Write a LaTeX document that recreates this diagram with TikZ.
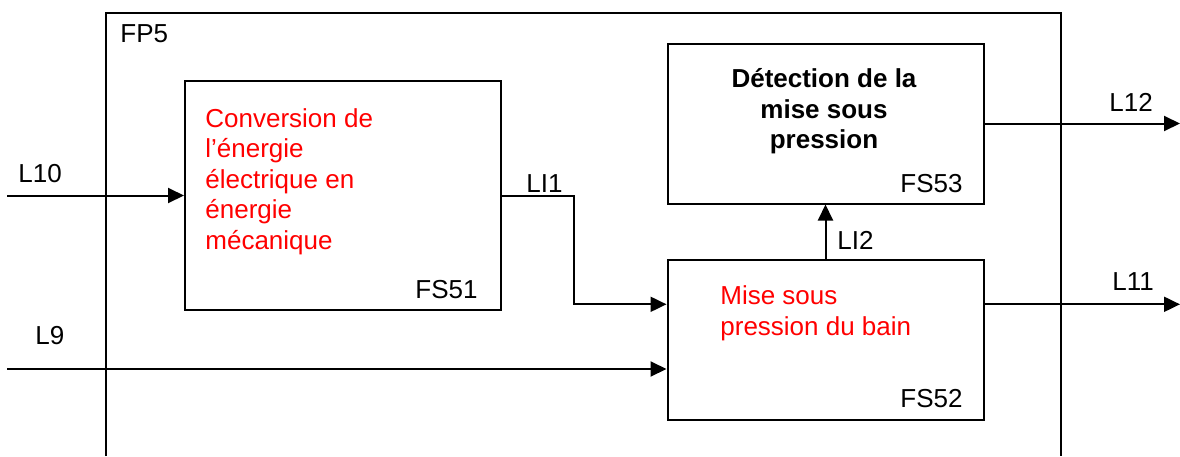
\documentclass[tikz,border=0pt]{standalone}
\usepackage{fontspec}
\setmainfont{Liberation Sans}
\usetikzlibrary{positioning,arrows.meta,calc}
\definecolor{FuncRed}{RGB}{255,0,0}

\tikzset{
  fsbox/.style={draw, line width=1pt, minimum width=158pt, minimum height=80pt},
  flow/.style={line width=1pt, -{Triangle[length=8pt,width=7.5pt]}},
  lbl/.style={inner sep=0pt, anchor=base west},
  tag/.style={inner sep=0pt, anchor=base east},
  redtxt/.style={inner sep=0pt, anchor=base west, align=left, text=FuncRed}
}

\begin{document}
\begin{tikzpicture}[x=0.5pt, y=-0.5pt,
    every node/.style={font=\fontsize{13}{15.25}\selectfont}]
  \useasboundingbox (0,0) rectangle (1180,456);

  % frame of FP5 (open at the bottom)
  \draw[line width=1pt] (106,456) -- (106,13.3) -- (1060.7,13.3) -- (1060.7,456);
  \node[lbl] (fp5) at (120,42) {FP5};

  % function blocks
  \node[fsbox, minimum height=114.5pt] (fs51) at (343,195.5) {};
  \node[fsbox] (fs53) at (825.5,123.5) {};
  \node[fsbox] (fs52) at (825.5,339.7) {};

  % multi-line texts sit on the baseline of their last line
  \node[redtxt] (t51) at (205,249) {Conversion de\\l’énergie\\électrique en\\énergie\\mécanique};
  \node[tag] (n51) at (478,298) {FS51};
  \node[inner sep=0pt, anchor=base, align=center, font=\fontsize{13}{15.25}\selectfont\bfseries]
    (t53) at (824,148.5) {Détection de la\\mise sous\\pression};
  \node[tag] (n53) at (963,192) {FS53};
  \node[redtxt] (t52) at (720,335) {Mise sous\\pression du bain};
  \node[tag] (n52) at (963,407) {FS52};

  % inputs and outputs
  \coordinate (in10) at (7,195.5);
  \coordinate (in9) at (7,369);
  \coordinate (fs52in) at ([yshift=17.7pt]fs52.west);
  \coordinate (fs52out) at ([yshift=17.7pt]fs52.east);
  \coordinate (out12) at (1180,123.5);
  \coordinate (out11) at (1180,304.3);

  \draw[flow] (in10) -- (fs51.west);
  \draw[flow] (in9) -- (in9 -| fs52.west);
  \draw[flow] (fs51.east) -- ++(72,0) |- (fs52in);
  \draw[flow] (fs52.north) -- (fs53.south);
  \draw[flow] (fs53.east) -- (out12);
  \draw[flow] (fs52out) -- (out11);

  \node[lbl] (l10) at (18,182) {L10};
  \node[lbl] (l9) at (35,344) {L9};
  \node[lbl] (li1) at (526,192) {LI1};
  \node[lbl] (li2) at (837,249) {LI2};
  \node[lbl] (l12) at (1109,111) {L12};
  \node[lbl] (l11) at (1112,290) {L11};
\end{tikzpicture}
\end{document}
